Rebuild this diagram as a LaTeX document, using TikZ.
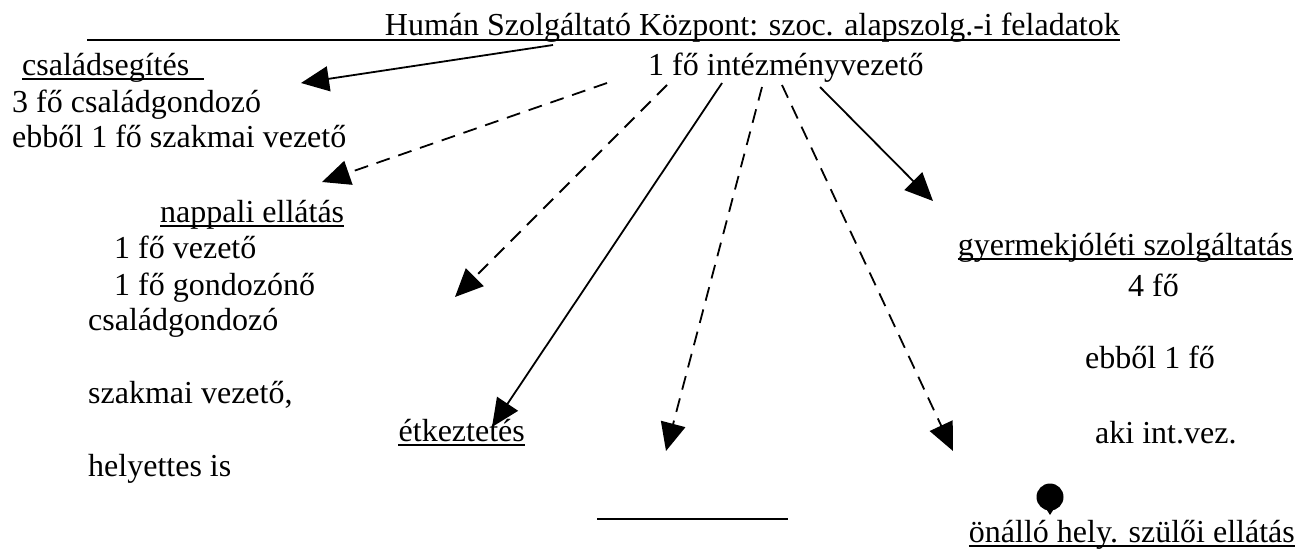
\documentclass[tikz,border=0pt]{standalone}
\usepackage{fontspec}
\setmainfont{Liberation Serif}
\usetikzlibrary{arrows.meta}
\begin{document}
\begin{tikzpicture}[x=1pt,y=-1pt,
  txt/.style={inner sep=0pt, anchor=base west, font=\fontsize{32}{36}\selectfont},
  txtr/.style={txt, anchor=base east},
  ul/.style={line width=1.6pt},
  arr/.style={line width=1.8pt, -{Triangle[length=28pt,width=25pt]}},
  dsh/.style={arr, dash pattern=on 14pt off 9pt}]
\useasboundingbox (0,0) rectangle (1298,557);
% texts
\node[txtr] (title) at (1120,35) {Humán Szolgáltató Központ: szoc. alapszolg.-i feladatok};
\node[txt] (intvez) at (648,75) {1 fő intézményvezető};
\node[txt] (csal) at (22,75) {családsegítés};
\node[txt] (c2) at (12,112) {3 fő családgondozó};
\node[txt] (c3) at (12,147) {ebből 1 fő szakmai vezető};
\node[txt] (napp) at (160,222) {nappali ellátás};
\node[txt] (n1) at (114,258) {1 fő vezető};
\node[txt] (n2) at (114,295) {1 fő gondozónő};
\node[txt] (n3) at (88,330) {családgondozó};
\node[txt] (n4) at (88,403) {szakmai vezető,};
\node[txt] (n5) at (88,476) {helyettes is};
\node[txtr] (etk) at (525,441) {étkeztetés};
\node[txtr] (gy) at (1293,255) {gyermekjóléti szolgáltatás};
\node[txt] (gy2) at (1128,296) {4 fő};
\node[txt] (gy3) at (1085,368) {ebből 1 fő};
\node[txt] (gy4) at (1095,443) {aki int.vez.};
\node[txtr] (onallo) at (1295,542) {önálló hely. szülői ellátás};
% underlines
\draw[ul] (87,40) -- (title.base east |- 0,40);
\draw[ul] (csal.base west |- 0,79) -- (204,79);
\draw[ul] ([yshift=-4pt]napp.base west) -- ([yshift=-4pt]napp.base east);
\draw[ul] ([yshift=-4pt]etk.base west) -- ([yshift=-4pt]etk.base east);
\draw[ul] ([yshift=-4pt]gy.base west) -- ([yshift=-4pt]gy.base east);
\draw[ul] ([yshift=-4pt]onallo.base west) -- ([yshift=-4pt]onallo.base east);
\coordinate (bl1) at (597,519);
\coordinate (bl2) at (788,519);
\draw[ul] (bl1) -- (bl2);
% blob
\coordinate (blob) at (1050,497);
\fill (blob) circle (13.5);
\fill ([shift={(-5,10)}]blob) -- ([shift={(5,10)}]blob) -- ([shift={(0,18)}]blob) -- cycle;
% arrow ends
\coordinate (s1) at (553,45);  \coordinate (t1) at (301,83);
\coordinate (s2) at (607,83);  \coordinate (t2) at (322,182);
\coordinate (s3) at (667,85);  \coordinate (t3) at (455,297);
\coordinate (s4) at (722,83);  \coordinate (t4) at (492,427);
\coordinate (s5) at (762,87);  \coordinate (t5) at (666,451);
\coordinate (s6) at (782,85);  \coordinate (t6) at (953,451);
\coordinate (s7) at (820,87);  \coordinate (t7) at (933,201);
\draw[arr] (s1) -- (t1);
\draw[dsh] (s2) -- (t2);
\draw[dsh] (s3) -- (t3);
\draw[arr] (s4) -- (t4);
\draw[dsh] (s5) -- (t5);
\draw[dsh] (s6) -- (t6);
\draw[arr] (s7) -- (t7);
\end{tikzpicture}
\end{document}
